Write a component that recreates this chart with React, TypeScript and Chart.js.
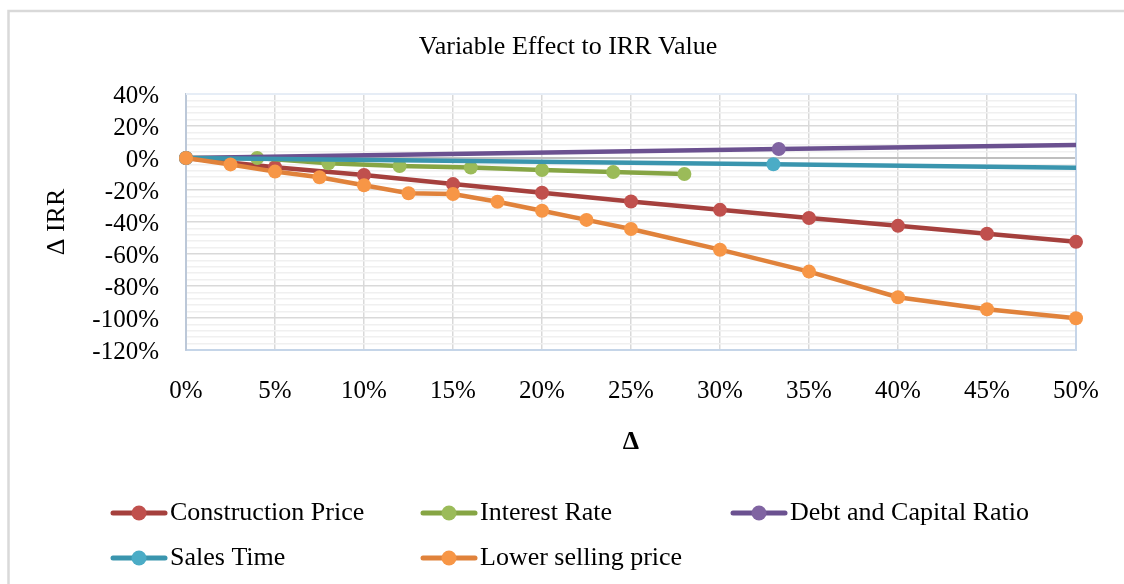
import React, { useEffect, useRef } from 'react';
import { Chart, registerables } from 'chart.js';

Chart.register(...registerables);

const FONT = '"Liberation Serif", "Times New Roman", serif';

const TITLE = 'Variable Effect to IRR Value';
const X_TITLE = 'Δ';
const Y_TITLE = 'Δ IRR';

const SERIES_LABELS = [
  'Construction Price',
  'Interest Rate',
  'Debt and Capital Ratio',
  'Sales Time',
  'Lower selling price',
];

// x values are Δ in %, y values are Δ IRR in %
const constructionX = [0, 5, 10, 15, 20, 25, 30, 35, 40, 45, 50];
const constructionY = [0, -5.8, -10.6, -16.3, -21.7, -27.2, -32.4, -37.5, -42.4, -47.3, -52.4];

const interestX = [0, 4, 8, 12, 16, 20, 24, 28];
const interestY = [0, 0, -3.3, -5, -6, -7.5, -8.8, -10];

const debtX = [0, 33.3, 66.7];
const debtY = [0, 5.6, 10.6];

const salesX = [0, 33, 66];
const salesY = [0, -3.9, -8.1];

const lowerX = [0, 2.5, 5, 7.5, 10, 12.5, 15, 17.5, 20, 22.5, 25, 30, 35, 40, 45, 50];
const lowerY = [0, -4, -8.5, -12, -17, -22, -22.5, -27.3, -33, -38.7, -44.4, -57.3, -71, -87, -94.5, -100.2];

const X_TICKS_MIN = 0;
const X_TICKS_MAX = 50;
const Y_TICKS_MIN = -120;
const Y_TICKS_MAX = 40;

const LINE_COLORS = ['#A5403D', '#86A544', '#6B5190', '#3A95AE', '#E0823B'];
const MARKER_COLORS = ['#C0504D', '#9BBB59', '#8064A2', '#4BACC6', '#F79646'];

const decorPlugin = {
  id: 'decor',
  beforeDraw(chart: any) {
    const ctx = chart.ctx;
    ctx.save();
    ctx.fillStyle = '#ffffff';
    ctx.fillRect(0, 0, chart.width, chart.height);
    ctx.strokeStyle = '#d9d9d9';
    ctx.lineWidth = 2.5;
    ctx.beginPath();
    ctx.moveTo(8.5, chart.height);
    ctx.lineTo(8.5, 11);
    ctx.lineTo(chart.width, 11);
    ctx.stroke();
    ctx.fillStyle = '#000000';
    ctx.font = `26px ${FONT}`;
    ctx.textAlign = 'center';
    ctx.textBaseline = 'middle';
    ctx.fillText(TITLE, 568, 47);
    ctx.restore();
  },
  beforeDatasetsDraw(chart: any) {
    const ctx = chart.ctx;
    const { left, right, top, bottom } = chart.chartArea;
    ctx.save();
    ctx.lineWidth = 2;
    ctx.strokeStyle = '#e6edf6';
    ctx.beginPath();
    ctx.moveTo(left, top);
    ctx.lineTo(right, top);
    ctx.stroke();
    ctx.strokeStyle = '#c6d5e8';
    ctx.beginPath();
    ctx.moveTo(right, top);
    ctx.lineTo(right, bottom + 1);
    ctx.stroke();
    ctx.restore();
  },
  afterDraw(chart: any) {
    const ctx = chart.ctx;
    const cols = [110, 420, 730];
    const rows = [513, 558];
    ctx.save();
    chart.data.datasets.forEach((ds: any, i: number) => {
      const x0 = cols[i % 3];
      const y = rows[Math.floor(i / 3)];
      ctx.strokeStyle = ds.borderColor;
      ctx.lineWidth = 5;
      ctx.lineCap = 'round';
      ctx.beginPath();
      ctx.moveTo(x0 + 3, y);
      ctx.lineTo(x0 + 55, y);
      ctx.stroke();
      ctx.fillStyle = ds.pointBackgroundColor;
      ctx.beginPath();
      ctx.arc(x0 + 29, y, 7.5, 0, Math.PI * 2);
      ctx.fill();
      ctx.fillStyle = '#000000';
      ctx.font = `26px ${FONT}`;
      ctx.textAlign = 'left';
      ctx.textBaseline = 'middle';
      ctx.fillText(ds.label, x0 + 60, y);
    });
    ctx.restore();
  },
};

function makePoints(xs: number[], ys: number[]) {
  return xs.map((x, i) => ({ x, y: ys[i] }));
}

export default function App() {
  const ref = useRef<HTMLCanvasElement | null>(null);

  useEffect(() => {
    if (!ref.current) return;
    const seriesX = [constructionX, interestX, debtX, salesX, lowerX];
    const seriesY = [constructionY, interestY, debtY, salesY, lowerY];
    const datasets = SERIES_LABELS.map((label, i) => ({
      label,
      data: makePoints(seriesX[i], seriesY[i]),
      borderColor: LINE_COLORS[i],
      backgroundColor: MARKER_COLORS[i],
      pointBackgroundColor: MARKER_COLORS[i],
      pointBorderColor: MARKER_COLORS[i],
      pointBorderWidth: 0,
      pointRadius: 7,
      borderWidth: 4.5,
      tension: 0,
      order: SERIES_LABELS.length - i,
      clip: i === 2 || i === 3 ? { left: 12, top: 12, right: 0, bottom: 12 } : false,
    }));

    const chart = new Chart(ref.current, {
      type: 'line',
      data: { datasets } as any,
      plugins: [decorPlugin],
      options: {
        responsive: false,
        animation: false,
        devicePixelRatio: 1,
        layout: { padding: { top: 94, left: 0, right: 48, bottom: 124 } },
        plugins: {
          legend: { display: false },
          title: { display: false },
          tooltip: { enabled: false },
        },
        scales: {
          x: {
            type: 'linear',
            min: X_TICKS_MIN,
            max: X_TICKS_MAX,
            ticks: {
              stepSize: 5,
              autoSkip: false,
              maxRotation: 0,
              padding: 26,
              color: '#000000',
              font: { family: FONT, size: 25 },
              callback: (v: any) => `${v}%`,
            },
            grid: { drawTicks: false, color: '#d9d9d9', lineWidth: 1.5 },
            border: { display: true, color: '#c5d5e8', width: 2 },
            title: {
              display: true,
              text: X_TITLE,
              color: '#000000',
              font: { family: FONT, size: 26, weight: 'bold' },
              padding: { top: 0, bottom: 2 },
            },
            afterFit: (s: any) => {
              s.height = 110;
              s.paddingLeft = 0;
              s.paddingRight = 0;
            },
          },
          y: {
            type: 'linear',
            min: Y_TICKS_MIN,
            max: Y_TICKS_MAX,
            ticks: {
              stepSize: 4,
              maxTicksLimit: 100,
              autoSkip: false,
              padding: 27,
              labelOffset: 2,
              color: '#000000',
              font: { family: FONT, size: 25 },
              callback: (v: any) => (Math.round(v) % 20 === 0 ? `${Math.round(v)}%` : ''),
            },
            grid: {
              drawTicks: false,
              color: (c: any) => {
                const v = c.tick ? Math.round(c.tick.value) : 1;
                if (v === 0) return '#bfbfbf';
                return v % 20 === 0 ? '#d9d9d9' : '#f0f0f0';
              },
              lineWidth: (c: any) => {
                const v = c.tick ? Math.round(c.tick.value) : 1;
                return v === 0 ? 2 : 1.5;
              },
            },
            border: { display: true, color: '#bcc8d8', width: 2 },
            title: {
              display: true,
              text: Y_TITLE,
              color: '#000000',
              font: { family: FONT, size: 26 },
              padding: { top: 42, bottom: 0 },
            },
            afterFit: (s: any) => {
              s.width = 186;
              s.paddingTop = 0;
              s.paddingBottom = 0;
            },
          },
        },
      } as any,
    });
    return () => chart.destroy();
  }, []);

  return (
    <div style={{ position: 'fixed', left: 0, top: 0, width: 1124, height: 584, background: '#fff' }}>
      <canvas ref={ref} width={1124} height={584} style={{ display: 'block', width: 1124, height: 584 }} />
    </div>
  );
}
